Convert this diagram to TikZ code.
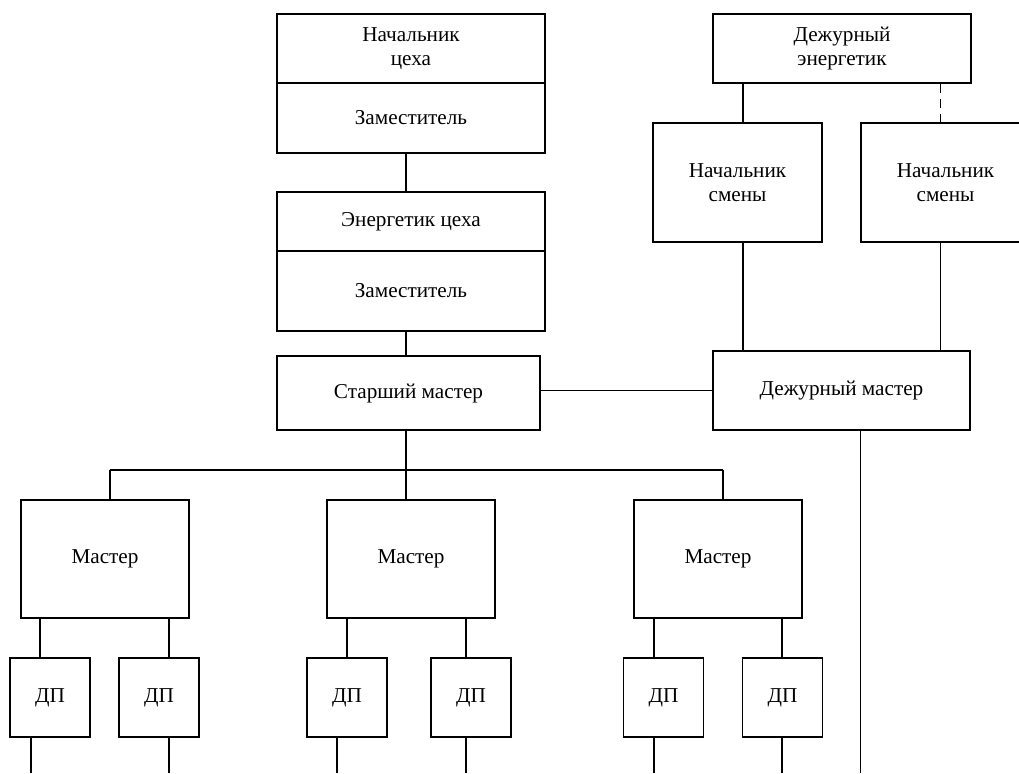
\documentclass[tikz,border=0pt]{standalone}
\usepackage{fontspec}
\setmainfont{Liberation Serif}

\begin{document}
\begin{tikzpicture}[x=0.5pt,y=-0.5pt,line width=0.6pt,
    font=\fontsize{10.6}{12}\selectfont,
    unit/.style 2 args={draw,align=center,inner sep=0pt,
      minimum width=#1,minimum height=#2},
    link/.style={line width=0.6pt},
    duty/.style={line width=0.6pt,dash pattern=on 4.6pt off 3.1pt}]
    \useasboundingbox (0,0) rectangle (1019,773);
    \clip (0,0) rectangle (1019,773);
    \coordinate (spine) at (406,0);
    \coordinate (floor) at (0,773);
    \coordinate (tapa) at (743,0);
    \coordinate (tapb) at (940.5,0);

    \node[unit={134pt}{34.5pt}] (chief) at (411,48.5) {Начальник\\цеха};
    \node[unit={134pt}{35pt}] (chiefdep) at (411,118) {Заместитель};
    \node[unit={134pt}{29.5pt}] (eng) at (411,221.5) {Энергетик цеха};
    \node[unit={134pt}{40pt}] (engdep) at (411,291) {Заместитель};
    \node[unit={131.5pt}{37pt}] (senior) at (408.5,393) {Старший мастер};

    \node[unit={129pt}{34.5pt}] (dutyeng) at (842,48.5) {Дежурный\\энергетик};
    \node[unit={84.5pt}{59.5pt}] (shift1) at (737.5,182.5) {Начальник\\смены};
    \node[unit={84.5pt}{59.5pt}] (shift2) at (945.5,182.5) {Начальник\\смены};
    \node[unit={128.5pt}{39.5pt}] (dutymaster) at (841.5,390.5) {Дежурный мастер};

    \foreach \i/\mx/\drop in {1/105/110,2/411/406,3/718/723} {
      \node[unit={84pt}{59pt}] (master\i) at (\mx,559) {Мастер};
      \coordinate (drop\i) at (\drop,470);
    }

    \foreach \i/\xa/\xb/\ua/\ub/\la/\lb in
        {1/50/159/40/169/31/169,
         2/347/471/347/466/337/466,
         3/663.5/782.5/654/782/654/782} {
      \node[unit={40pt}{39.5pt}] (dp\i a) at (\xa,697.5) {ДП};
      \node[unit={40pt}{39.5pt}] (dp\i b) at (\xb,697.5) {ДП};
      \draw[link] (master\i.south -| \ua,0) -- (dp\i a.north -| \ua,0);
      \draw[link] (master\i.south -| \ub,0) -- (dp\i b.north -| \ub,0);
      \draw[link] (dp\i a.south -| \la,0) -- (floor -| \la,0);
      \draw[link] (dp\i b.south -| \lb,0) -- (floor -| \lb,0);
      \draw[link] (drop\i) -- (drop\i |- master\i.north);
    }

    \draw[link] (chiefdep.south -| spine) -- (eng.north -| spine);
    \draw[link] (engdep.south -| spine) -- (senior.north -| spine);
    \draw[link] (senior.south -| spine) -- (drop2);
    \draw[link] (drop1) -- (drop3);
    \draw[link] (senior.east |- dutymaster.west) -- (dutymaster.west);

    \draw[link] (tapa |- dutyeng.south) -- (tapa |- shift1.north);
    \draw[duty] (tapb |- dutyeng.south) -- (tapb |- shift2.north);
    \draw[link] (tapa |- shift1.south) -- (tapa |- dutymaster.north);
    \draw[link] (tapb |- shift2.south) -- (tapb |- dutymaster.north);
    \draw[link] (dutymaster.south -| shift2.west) -- (floor -| shift2.west);
  \end{tikzpicture}
\end{document}
